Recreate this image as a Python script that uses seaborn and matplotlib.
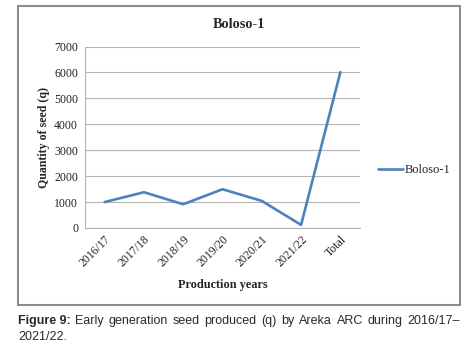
import matplotlib
matplotlib.use("Agg")
import matplotlib.pyplot as plt
import seaborn as sns
import pandas as pd
from matplotlib.patches import Rectangle

# data
years = ["2016/17", "2017/18", "2018/19", "2019/20", "2020/21", "2021/22", "Total"]
seed_q = [1000, 1380, 915, 1495, 1045, 120, 6010]
series_name = "Boloso-1"

df = pd.DataFrame({"Year": years, "Seed": seed_q, "Variety": series_name})

sns.set_theme(style="white")
plt.rcParams["font.family"] = ["Liberation Serif", "DejaVu Serif"]

W, H = 473, 348
fig = plt.figure(figsize=(W / 100, H / 100), dpi=100)

# chart box border
fig.patches.append(Rectangle((18 / W, 1 - 305 / H), (460 - 18) / W, (305 - 6) / H,
                             transform=fig.transFigure, fill=False,
                             edgecolor="#8c8c8c", linewidth=1.5))

ax = fig.add_axes([85 / W, 1 - 228 / H, (360 - 85) / W, (228 - 46.5) / H])
sns.lineplot(data=df, x="Year", y="Seed", hue="Variety", sort=False,
             palette=["#4f81bd"], linewidth=1.9, ax=ax, legend=False)

ax.set_ylim(0, 7000)
ax.set_yticks(range(0, 7001, 1000))
ax.set_xlim(-0.5, len(years) - 0.5)
ax.yaxis.grid(True, color="#b4b4b4", linewidth=0.8)
ax.set_axisbelow(True)
for s in ["top", "right"]:
    ax.spines[s].set_visible(False)
for s in ["left", "bottom"]:
    ax.spines[s].set_color("#b4b4b4")
    ax.spines[s].set_linewidth(0.8)

ax.tick_params(axis="y", labelsize=8.5, colors="#b4b4b4", labelcolor="#222222",
               length=3, width=0.8, pad=2)
ax.tick_params(axis="x", labelsize=8.5, labelcolor="#222222", length=0, pad=4)
ax.set_xticks(range(len(years)))
ax.set_xticklabels(years, rotation=45, ha="right", rotation_mode="anchor")

ax.set_xlabel("Production years", fontsize=8.8, fontweight="bold", labelpad=7)
ax.set_ylabel("Quantity of seed (q)", fontsize=8.6, fontweight="bold", labelpad=3)
fig.text(239 / W, 1 - 25 / H, "Boloso-1", fontsize=10.3, fontweight="bold",
         ha="center", va="center")

handle = plt.Line2D([], [], color="#4f81bd", linewidth=1.9)
fig.legend([handle], [series_name], loc="center left",
           bbox_to_anchor=(367 / W, 1 - 170 / H), frameon=False,
           fontsize=9, handlelength=2.0, handletextpad=0.15)

# caption, first line justified across the box width
cap = dict(fontsize=9, va="center", color="#2a2a2a", family="Liberation Sans")
words = ["Early", "generation", "seed", "produced", "(q)", "by", "Areka", "ARC",
         "during", "2016/17–"]
fig.canvas.draw()
r = fig.canvas.get_renderer()
lead = fig.text(18 / W, 1 - 321 / H, "Figure 9:", fontweight="bold", **cap)
x0 = 18 + lead.get_window_extent(r).width
arts = [fig.text(0, 1 - 321 / H, w, **cap) for w in words]
widths = [a.get_window_extent(r).width for a in arts]
gap = (460 - x0 - sum(widths)) / len(words)
x = x0 + gap
for a, w in zip(arts, widths):
    a.set_x(x / W)
    x += w + gap
fig.text(18 / W, 1 - 337 / H, "2021/22.", **cap)

fig.savefig("out.png", dpi=100)
